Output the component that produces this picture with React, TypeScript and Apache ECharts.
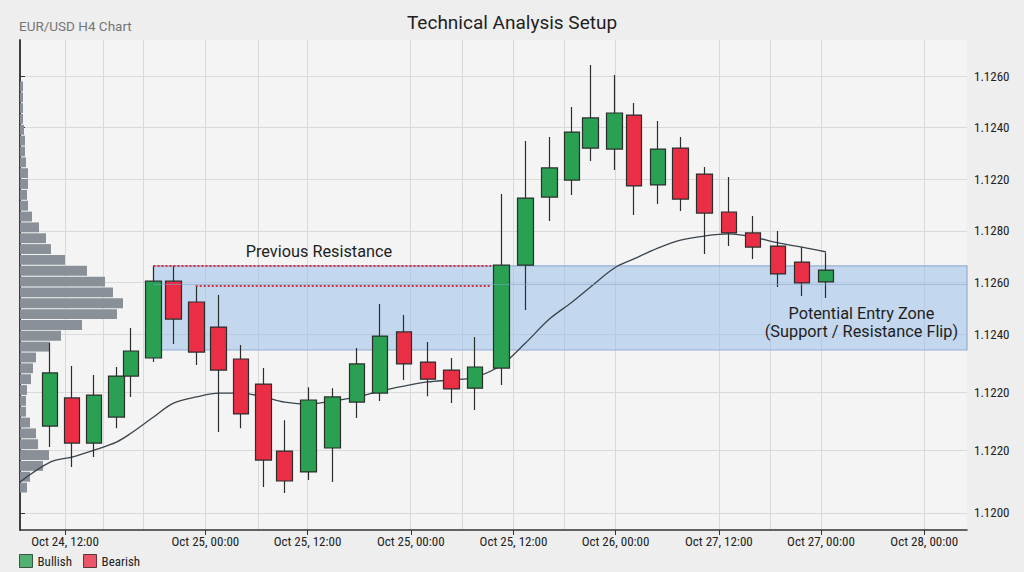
import React, { useEffect, useRef } from "react";
import * as echarts from "echarts";

// ---- Data ----
const candleTimes = [5.3, 9.1, 13.0, 16.9, 19.5, 23.4, 26.9, 30.9, 34.8, 38.7, 42.7, 46.4, 50.6, 54.8, 59.1, 63.1, 67.3, 71.5, 75.6, 79.8, 84.4, 88.6, 92.8, 96.8, 100.0, 104.2, 107.6, 111.8, 115.8, 120.0, 124.3, 128.5, 132.9, 137.1, 141.3];
const opens = [1.11643, 1.11752, 1.11577, 1.11678, 1.11837, 1.11907, 1.12205, 1.12124, 1.12027, 1.11903, 1.11806, 1.11546, 1.11465, 1.11558, 1.11736, 1.11771, 1.12008, 1.11891, 1.1186, 1.1179, 1.11868, 1.12267, 1.12531, 1.12597, 1.12721, 1.12717, 1.12849, 1.12578, 1.12721, 1.1262, 1.12473, 1.12392, 1.12341, 1.12279, 1.12202];
const closes = [1.11849, 1.11577, 1.11763, 1.11837, 1.11934, 1.12205, 1.12058, 1.1193, 1.1186, 1.1169, 1.11511, 1.1143, 1.11744, 1.11756, 1.11884, 1.11992, 1.11884, 1.11825, 1.11787, 1.11872, 1.12267, 1.12527, 1.12644, 1.12783, 1.12838, 1.12857, 1.12574, 1.12717, 1.12523, 1.12469, 1.12392, 1.12337, 1.12233, 1.12198, 1.12248];
const lows = [1.11562, 1.11484, 1.11523, 1.11635, 1.11756, 1.11891, 1.11961, 1.1188, 1.1162, 1.11635, 1.11407, 1.11383, 1.11434, 1.11426, 1.11674, 1.1174, 1.11822, 1.11759, 1.11732, 1.11705, 1.11802, 1.12093, 1.12438, 1.12539, 1.12671, 1.12636, 1.12461, 1.12504, 1.12477, 1.1231, 1.12341, 1.12291, 1.12182, 1.12147, 1.1214];
const highs = [1.11965, 1.11876, 1.11841, 1.11872, 1.12023, 1.12264, 1.12264, 1.12186, 1.12151, 1.11957, 1.11868, 1.11666, 1.11794, 1.1179, 1.11946, 1.12116, 1.12074, 1.11969, 1.11907, 1.11988, 1.12543, 1.12748, 1.12764, 1.1288, 1.13043, 1.13004, 1.12896, 1.12826, 1.12764, 1.12648, 1.12609, 1.12458, 1.12399, 1.12337, 1.12314];

const maTimes = [0, 5.3, 9.1, 13.0, 16.9, 19.5, 23.4, 26.9, 30.9, 34.8, 38.7, 42.7, 46.4, 50.6, 54.8, 59.1, 63.1, 67.3, 71.5, 75.6, 79.8, 84.4, 88.6, 92.8, 96.8, 100.0, 104.2, 107.6, 111.8, 115.8, 120.0, 124.3, 128.5, 132.9, 137.1, 141.3];
const maValues = [1.11426, 1.11503, 1.11523, 1.1155, 1.11581, 1.11616, 1.11678, 1.11732, 1.11756, 1.11771, 1.11771, 1.11756, 1.11736, 1.11728, 1.1174, 1.11756, 1.11779, 1.11798, 1.11814, 1.11822, 1.11833, 1.1188, 1.11965, 1.12058, 1.12124, 1.12182, 1.12256, 1.12291, 1.12333, 1.12364, 1.1238, 1.12388, 1.12376, 1.12353, 1.12337, 1.12318];

// volume profile, top level to bottom level
const profileVolumes = [3, 3, 3, 3, 4, 5, 5, 6, 8, 8, 7, 8, 12, 19, 26, 31, 45, 67, 85, 93, 103, 97, 62, 41, 30, 16, 13, 11, 7, 6, 6, 10, 16, 18, 29, 23, 10, 7];
const profileLevels = profileVolumes.map((_, i) => "L" + i);

const yTickValues = [1.13, 1.128, 1.126, 1.124, 1.122, 1.12, 1.11775, 1.1155, 1.11306];
const yTickLabels = ["1.1260", "1.1240", "1.1220", "1.1280", "1.1260", "1.1240", "1.1220", "1.1220", "1.1200"];

const xTickValues = [7.9, 32.5, 50.4, 68.5, 86.5, 104.4, 122.5, 140.4, 158.5];
const xTickLabels = ["Oct 24, 12:00", "Oct 25, 00:00", "Oct 25, 12:00", "Oct 25, 00:00", "Oct 25, 12:00", "Oct 26, 00:00", "Oct 27, 12:00", "Oct 27, 00:00", "Oct 28, 00:00"];
const xGridValues = [7.9, 14.6, 21.6, 32.5, 41.7, 50.4, 68.4, 77.5, 86.5, 95.4, 104.4, 122.5, 131.5, 140.4, 158.5];

const zoneTop = 1.12264;
const zoneBottom = 1.11938;
const zoneStart = 23.4;
const zoneMid = 1.12194;
const resistance1 = 1.12264;
const resistance2 = 1.12186;
const resistance1Start = 23.4;
const resistance2Start = 30.8;
const resistanceEnd = 82.6;
const prevResLabel = { t: 52.4, v: 1.12318, text: "Previous Resistance" };
const entryLabel = { t: 147.5, v: 1.12043, text: "Potential Entry Zone\n(Support / Resistance Flip)" };

const X_MIN = 0;
const X_MAX = 166;
const Y_MIN = 1.1124;
const Y_MAX = 1.1314;

const GREEN = "#2aa052";
const RED = "#ea2e45";
const EDGE = "#2a2f2c";
const NARROW = "'Roboto Condensed','Liberation Sans Narrow','Arial Narrow',Roboto,sans-serif";

function labelFor(values: number[], labels: string[], v: number) {
  for (let i = 0; i < values.length; i++) {
    if (Math.abs(values[i] - v) < 1e-7) return labels[i];
  }
  return "";
}

export default function App() {
  const ref = useRef<HTMLDivElement>(null);
  useEffect(() => {
    if (!ref.current) return;
    const chart = echarts.init(ref.current, undefined, { renderer: "svg" });
    const candleData = candleTimes.map((t, i) => [t, opens[i], closes[i], lows[i], highs[i]]);
    const maData = maTimes.map((t, i) => [t, maValues[i]]);
    const option: any = {
      animation: false,
      backgroundColor: "#eeeeee",
      textStyle: { fontFamily: "Roboto, sans-serif" },
      title: [
        {
          text: "Technical Analysis Setup",
          left: "center",
          top: 8,
          textStyle: { fontSize: 19, fontWeight: "normal", color: "#1e1e1e", fontFamily: "Roboto, sans-serif" },
        },
        {
          text: "EUR/USD H4 Chart",
          left: 14,
          top: 14,
          textStyle: { fontSize: 13.5, fontWeight: "normal", color: "#767676", fontFamily: "Roboto, sans-serif" },
        },
      ],
      legend: {
        left: 14,
        top: 549,
        icon: "rect",
        itemWidth: 13,
        itemHeight: 13,
        itemGap: 11,
        selectedMode: false,
        textStyle: { fontSize: 13, color: "#222", fontFamily: NARROW },
        data: [
          { name: "Bullish", itemStyle: { color: GREEN, borderColor: "#1c3a27", borderWidth: 1 } },
          { name: "Bearish", itemStyle: { color: RED, borderColor: "#3a1a1e", borderWidth: 1 } },
        ],
      },
      grid: [
        { left: 20, right: 57, top: 40, bottom: 42, show: true, backgroundColor: "#f4f4f4", borderWidth: 0 },
        { left: 20, top: 81, height: 412, width: 200, show: false },
      ],
      xAxis: [
        {
          type: "value",
          gridIndex: 0,
          min: X_MIN,
          max: X_MAX,
          position: "bottom",
          axisLine: { show: true, onZero: false, lineStyle: { color: "#333", width: 1.5 } },
          axisTick: { show: true, length: 5, customValues: xTickValues, lineStyle: { color: "#333" } },
          axisLabel: {
            show: true,
            customValues: xTickValues,
            margin: 5,
            fontSize: 13,
            color: "#222",
            fontFamily: NARROW,
            formatter: (v: number) => labelFor(xTickValues, xTickLabels, v),
          },
          splitLine: { show: false },
        },
        {
          type: "value",
          gridIndex: 0,
          min: X_MIN,
          max: X_MAX,
          position: "bottom",
          axisLine: { show: false },
          axisTick: { show: false, customValues: xGridValues },
          axisLabel: { show: false, customValues: xGridValues },
          splitLine: { show: true, lineStyle: { color: "#d9d9d9", width: 1 } },
        },
        {
          type: "value",
          gridIndex: 1,
          min: 0,
          max: 200,
          show: false,
        },
      ],
      yAxis: [
        {
          type: "value",
          gridIndex: 0,
          position: "right",
          min: Y_MIN,
          max: Y_MAX,
          axisLine: { show: true, lineStyle: { color: "#333", width: 1.5 } },
          axisTick: { show: true, length: 5, customValues: yTickValues, lineStyle: { color: "#333" } },
          axisLabel: {
            show: true,
            customValues: yTickValues,
            margin: 7,
            fontSize: 13,
            color: "#222",
            fontFamily: NARROW,
            formatter: (v: number) => labelFor(yTickValues, yTickLabels, v),
          },
          splitLine: { show: true, lineStyle: { color: "#d9d9d9", width: 1 } },
        },
        {
          type: "value",
          gridIndex: 0,
          position: "left",
          min: Y_MIN,
          max: Y_MAX,
          axisLine: { show: true, lineStyle: { color: "#333", width: 1.5 } },
          axisTick: { show: false },
          axisLabel: { show: false },
          splitLine: { show: false },
        },
        {
          type: "category",
          gridIndex: 1,
          inverse: true,
          data: profileLevels,
          show: false,
        },
      ],
      series: [
        {
          name: "Volume Profile",
          type: "bar",
          xAxisIndex: 2,
          yAxisIndex: 2,
          data: profileVolumes,
          barCategoryGap: "9%",
          itemStyle: { color: "#8a9098" },
          silent: true,
          z: 1,
        },
        {
          name: "Annotations",
          type: "line",
          xAxisIndex: 0,
          yAxisIndex: 0,
          data: [],
          silent: true,
          z: 2,
          markArea: {
            silent: true,
            itemStyle: { color: "rgba(150,188,232,0.52)", borderColor: "#93b0d3", borderWidth: 1.2 },
            data: [[{ xAxis: zoneStart, yAxis: zoneTop }, { xAxis: X_MAX, yAxis: zoneBottom }]],
          },
          markLine: {
            silent: true,
            symbol: ["none", "none"],
            label: { show: false },
            data: [
              [
                { coord: [zoneStart, zoneMid], lineStyle: { color: "rgba(130,160,200,0.55)", width: 1.2, type: "solid" } },
                { coord: [X_MAX, zoneMid] },
              ],
              [
                { coord: [resistance1Start, resistance1], lineStyle: { color: "#d62f3e", width: 2, type: [2, 2] } },
                { coord: [resistanceEnd, resistance1] },
              ],
              [
                { coord: [resistance2Start, resistance2], lineStyle: { color: "#d62f3e", width: 2, type: [2, 2] } },
                { coord: [resistanceEnd, resistance2] },
              ],
            ],
          },
          markPoint: {
            silent: true,
            symbol: "rect",
            symbolSize: 1,
            itemStyle: { color: "rgba(0,0,0,0)" },
            label: {
              show: true,
              position: "inside",
              formatter: "{b}",
              fontSize: 16.3,
              color: "#1e1e1e",
              lineHeight: 18,
              align: "center",
              fontFamily: "Roboto, sans-serif",
            },
            data: [
              { name: prevResLabel.text, coord: [prevResLabel.t, prevResLabel.v] },
              { name: entryLabel.text, coord: [entryLabel.t, entryLabel.v] },
            ],
          },
        },
        {
          name: "MA",
          type: "line",
          xAxisIndex: 0,
          yAxisIndex: 0,
          data: maData,
          smooth: 0.35,
          showSymbol: false,
          symbol: "none",
          silent: true,
          lineStyle: { color: "#3a444d", width: 1.3 },
          z: 2,
        },
        {
          name: "EURUSD",
          type: "candlestick",
          xAxisIndex: 0,
          yAxisIndex: 0,
          data: candleData,
          encode: { x: 0, y: [1, 2, 3, 4] },
          barWidth: 16,
          silent: true,
          itemStyle: {
            color: GREEN,
            color0: RED,
            borderColor: EDGE,
            borderColor0: EDGE,
            borderWidth: 1.2,
          },
          z: 3,
        },
        { name: "Bullish", type: "scatter", data: [], itemStyle: { color: GREEN } },
        { name: "Bearish", type: "scatter", data: [], itemStyle: { color: RED } },
      ],
    };
    chart.setOption(option);
    return () => chart.dispose();
  }, []);
  return (
    <div
      ref={ref}
      style={{ position: "fixed", left: 0, top: 0, width: 1024, height: 572 }}
    />
  );
}
